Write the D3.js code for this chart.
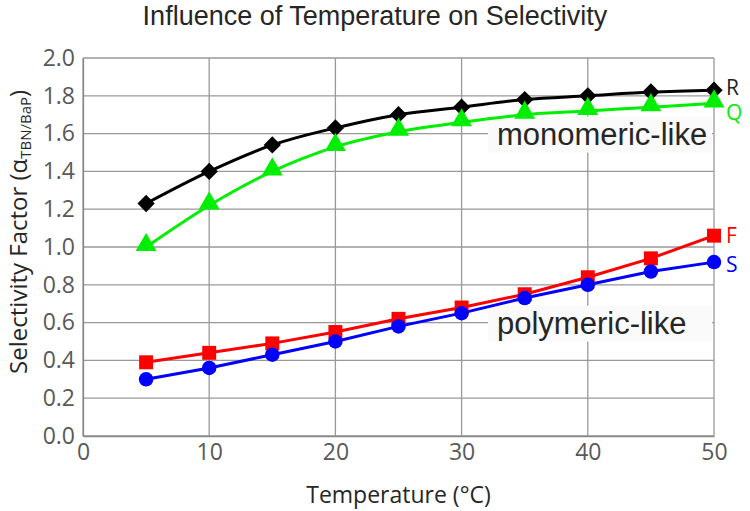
<!DOCTYPE html>
<html><head><meta charset="utf-8">
<script src="https://cdn.jsdelivr.net/npm/d3@7"></script>
<style>body{margin:0;background:#fff;}svg{display:block;}</style>
</head><body>
<svg id="chart" width="750" height="511"></svg>
<script>
const temps = [5,10,15,20,25,30,35,40,45,50];
const seriesR = [1.23,1.40,1.54,1.63,1.70,1.74,1.78,1.80,1.82,1.83];
const seriesQ = [1.00,1.22,1.40,1.53,1.61,1.66,1.70,1.72,1.74,1.76];
const seriesF = [0.39,0.44,0.49,0.55,0.62,0.68,0.75,0.84,0.94,1.06];
const seriesS = [0.30,0.36,0.43,0.50,0.58,0.65,0.73,0.80,0.87,0.92];
const xTicks = [0,10,20,30,40,50];
const yTicks = [0,0.2,0.4,0.6,0.8,1.0,1.2,1.4,1.6,1.8,2.0];
const seriesNames = ["R","Q","F","S"];
const seriesColors = ["#000000","#00ee00","#ff0000","#0000ff"];

const FONT = "'Open Sans', Lato, sans-serif";
const svg = d3.select("#chart");
const m = {left:83, right:714, top:58, bottom:436};
const x = d3.scaleLinear().domain([0,50]).range([m.left,m.right]);
const y = d3.scaleLinear().domain([0,2]).range([m.bottom,m.top]);

// gridlines
svg.append("g").selectAll("line.h").data(yTicks).join("line")
  .attr("x1",m.left).attr("x2",m.right)
  .attr("y1",d=>y(d)).attr("y2",d=>y(d))
  .attr("stroke","#999").attr("stroke-width",1.3);
svg.append("g").selectAll("line.v").data(xTicks).join("line")
  .attr("x1",d=>x(d)).attr("x2",d=>x(d))
  .attr("y1",m.top).attr("y2",m.bottom)
  .attr("stroke","#999").attr("stroke-width",1.3);

// axes
const yAxis = d3.axisLeft(y).tickValues(yTicks).tickFormat(d3.format(".1f")).tickSize(0).tickPadding(8);
const gy = svg.append("g").attr("transform",`translate(${m.left},0)`).call(yAxis);
gy.select(".domain").attr("stroke","#888").attr("stroke-width",1.3);
gy.selectAll("text").attr("font-family",FONT).attr("font-size",23).attr("fill","#595959");
const xAxis = d3.axisBottom(x).tickValues(xTicks).tickSize(0).tickPadding(8);
const gx = svg.append("g").attr("transform",`translate(0,${m.bottom})`).call(xAxis);
gx.select(".domain").attr("stroke","#888").attr("stroke-width",1.3);
gx.selectAll("text").attr("font-family",FONT).attr("font-size",23).attr("fill","#595959");

// annotation boxes
const ann = [{t:"monomeric-like", v:1.6, x0:488, x1:712},{t:"polymeric-like", v:0.6, x0:488, x1:712}];
ann.forEach(a=>{
  svg.append("rect").attr("x",a.x0).attr("y",y(a.v)-17).attr("width",a.x1-a.x0).attr("height",36).attr("fill","#fafafa");
  svg.append("text").attr("x",a.x0+9).attr("y",y(a.v)+11).text(a.t)
    .attr("font-family","'Liberation Sans', Arial, sans-serif").attr("font-size",31).attr("fill","#262626");
});

// series
const allData = [seriesR,seriesQ,seriesF,seriesS];
const curves = [d3.curveMonotoneX,d3.curveMonotoneX,d3.curveLinear,d3.curveLinear];
const symbols = [d3.symbolSquare, d3.symbolTriangle, d3.symbolSquare, d3.symbolCircle];
const sizes = [150,190,195,165];
allData.forEach((vals,i)=>{
  const pts = temps.map((t,j)=>[t,vals[j]]);
  svg.append("path").datum(pts)
    .attr("d",d3.line().x(d=>x(d[0])).y(d=>y(d[1])).curve(curves[i]))
    .attr("fill","none").attr("stroke",seriesColors[i]).attr("stroke-width",3);
});
allData.forEach((vals,i)=>{
  const pts = temps.map((t,j)=>[t,vals[j]]);
  svg.append("g").selectAll("path").data(pts).join("path")
    .attr("d",d3.symbol().type(symbols[i]).size(sizes[i]))
    .attr("transform",d=>`translate(${x(d[0])},${y(d[1]) + (i===1?-2:0)})` + (i===0?" rotate(45)":""))
    .attr("fill",seriesColors[i]);
  svg.append("text").attr("x",x(50)+12).attr("y",y(vals[vals.length-1])+ [5,17,7,10][i])
    .text(seriesNames[i]).attr("font-family",FONT).attr("font-size",21)
    .attr("fill",seriesColors[i]==="#000000"?"#222":seriesColors[i]);
});

// title
svg.append("text").attr("x",375).attr("y",25).attr("text-anchor","middle")
  .text("Influence of Temperature on Selectivity")
  .attr("font-family","'Liberation Sans Narrow', 'Liberation Sans', sans-serif").attr("font-size",27).attr("fill","#262626");
// x axis title
svg.append("text").attr("x",x(25)).attr("y",503).attr("text-anchor","middle")
  .text("Temperature (°C)").attr("font-family",FONT).attr("font-size",23).attr("fill","#262626");
// y axis title
const yt = svg.append("text").attr("transform",`translate(27,${y(1.08)}) rotate(-90)`).attr("text-anchor","middle")
  .attr("font-family",FONT).attr("font-size",24).attr("fill","#262626");
yt.append("tspan").text("Selectivity Factor (α");
yt.append("tspan").attr("font-size",15).attr("dy",4).text("TBN/BaP");
yt.append("tspan").attr("dy",-4).text(")");
</script>
</body></html>
